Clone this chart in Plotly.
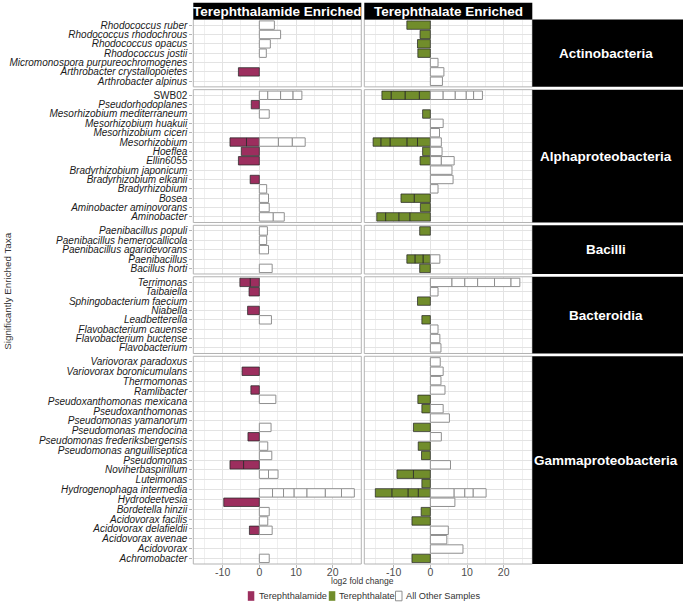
import plotly.graph_objects as go

FONT = "Liberation Sans, Arial, Helvetica, sans-serif"
W, H = 683, 605

MAROON = "#9c2e5e"
GREEN = "#718d2b"
WHITE = "#ffffff"

panel_titles = ["Terephthalamide Enriched", "Terephthalate Enriched"]
series_names = ["Terephthalamide", "Terephthalate", "All Other Samples"]
series_colors = [MAROON, GREEN, WHITE]
classes = ["Actinobacteria", "Alphaproteobacteria", "Bacilli", "Bacteroidia", "Gammaproteobacteria"]
x_ticks = [-10, 0, 10, 20]
x_minor = [-15, -5, 5, 15, 25]

# ---------------- Actinobacteria ----------------
actino_taxa = ["Rhodococcus ruber", "Rhodococcus rhodochrous", "Rhodococcus opacus",
               "Rhodococcus jostii", "Micromonospora purpureochromogenes",
               "Arthrobacter crystallopoietes", "Arthrobacter alpinus"]
actino_amide = [[], [], [], [], [], [-5.7], []]
actino_amide_other = [[4.1], [5.8], [3.0], [1.9], [], [], []]
actino_tpa = [[-6.4], [-2.8], [-3.5], [-3.4], [], [], []]
actino_tpa_other = [[], [], [], [], [2.1], [3.7], [3.3]]

# ---------------- Alphaproteobacteria ----------------
alpha_taxa = ["SWB02", "Pseudorhodoplanes", "Mesorhizobium mediterraneum", "Mesorhizobium huakuii",
              "Mesorhizobium ciceri", "Mesorhizobium", "Hoeflea", "Ellin6055",
              "Bradyrhizobium japonicum", "Bradyrhizobium elkanii", "Bradyrhizobium", "Bosea",
              "Aminobacter aminovorans", "Aminobacter"]
alpha_amide = [[], [-2.2], [], [], [], [-3.5, -4.5], [-4.9], [-5.7], [], [-2.5], [], [], [], []]
alpha_amide_other = [[2.3, 3.5, 3.4, 2.4], [], [2.7], [], [], [5.2, 3.8, 3.5], [], [], [], [],
                     [2.0], [2.5], [2.7], [3.8, 3.0]]
alpha_tpa = [[-3.0, -3.9, -3.8, -2.5], [], [-2.1], [], [], [-3.5, -2.9, -4.6, -2.5, -2.1],
             [-2.1], [-2.8], [], [], [], [-4.4, -3.6], [-2.7], [-5.6, -3.0, -3.6, -2.4]]
alpha_tpa_other = [[3.5, 3.3, 3.0, 2.0, 2.4], [], [], [3.5], [2.5], [3.0], [3.2], [3.0, 3.5],
                   [5.9], [6.2], [2.1], [], [], []]

# ---------------- Bacilli ----------------
bacilli_taxa = ["Paenibacillus populi", "Paenibacillus hemerocallicola",
                "Paenibacillus agaridevorans", "Paenibacillus", "Bacillus horti"]
bacilli_amide = [[], [], [], [], []]
bacilli_amide_other = [[2.2], [2.0], [2.5], [], [3.5]]
bacilli_tpa = [[-2.9], [], [], [-2.0, -2.2, -2.2], [-2.9]]
bacilli_tpa_other = [[], [], [], [2.6], []]

# ---------------- Bacteroidia ----------------
bacter_taxa = ["Terrimonas", "Taibaiella", "Sphingobacterium faecium", "Niabella",
               "Leadbetterella", "Flavobacterium cauense", "Flavobacterium buctense",
               "Flavobacterium"]
bacter_amide = [[-2.5, -2.8], [-2.8], [], [-3.2], [], [], [], []]
bacter_amide_other = [[], [], [], [], [3.3], [], [], []]
bacter_tpa = [[], [], [-3.5], [], [-2.3], [], [], []]
bacter_tpa_other = [[5.9, 3.5, 3.5, 4.6, 4.5, 2.4], [2.1], [], [], [], [2.1], [2.6], [2.9]]

# ---------------- Gammaproteobacteria ----------------
# the picture shows 21 axis labels spread over 22 bar rows
gamma_taxa = ["Variovorax paradoxus", "Variovorax boronicumulans", "Thermomonas", "Ramlibacter",
              "Pseudoxanthomonas mexicana", "Pseudoxanthomonas", "Pseudomonas yamanorum",
              "Pseudomonas mendocina", "Pseudomonas frederiksbergensis",
              "Pseudomonas anguilliseptica", "Pseudomonas", "Noviherbaspirillum", "Luteimonas",
              "Hydrogenophaga intermedia", "Hydrodeetvesia", "Bordetella hinzii",
              "Acidovorax facilis", "Acidovorax delafieldii", "Acidovorax avenae", "Acidovorax",
              "Achromobacter"]
gamma_bar_rows = 22
gamma_amide = [[], [-4.7], [], [-2.3], [], [], [], [], [-3.1], [], [], [-4.3, -3.7], [], [],
               [], [-9.7], [], [], [-2.7], [], [], []]
gamma_amide_other = [[], [], [], [], [4.5], [], [], [3.2], [], [2.3], [3.4], [], [2.5, 2.6], [],
                     [3.6, 3.0, 2.9, 3.5, 5.0, 4.4, 3.5], [], [2.7], [2.3], [3.5], [], [], [2.7]]
gamma_tpa = [[], [], [], [], [-3.4], [-2.3], [], [-4.6], [], [-3.3], [-2.4], [], [-4.6, -4.5],
             [-2.3], [-3.3, -2.8, -4.4, -4.5], [], [-2.5], [-5.0], [], [], [], [-5.0]]
gamma_tpa_other = [[2.7], [3.5], [2.9], [4.0], [], [3.5], [5.2], [], [3.0], [], [], [5.5], [], [],
                   [6.5, 2.9, 2.3, 3.5], [6.7], [], [], [4.9], [4.5], [8.9], []]

facets = [
    (actino_taxa, len(actino_taxa), actino_amide, actino_amide_other, actino_tpa, actino_tpa_other),
    (alpha_taxa, len(alpha_taxa), alpha_amide, alpha_amide_other, alpha_tpa, alpha_tpa_other),
    (bacilli_taxa, len(bacilli_taxa), bacilli_amide, bacilli_amide_other, bacilli_tpa, bacilli_tpa_other),
    (bacter_taxa, len(bacter_taxa), bacter_amide, bacter_amide_other, bacter_tpa, bacter_tpa_other),
    (gamma_taxa, gamma_bar_rows, gamma_amide, gamma_amide_other, gamma_tpa, gamma_tpa_other),
]

# ---------------- layout geometry (pixels) ----------------
col_px = [(193.3, 361.3), (364.3, 532.3)]
strip_right_px = (532.3, 683.0)
top_px, bottom_px, gap_px = 19.5, 564.0, 2.8
strip_top_px = 2.7
units = [f[1] + 0.2 for f in facets]
u = (bottom_px - top_px - gap_px * (len(facets) - 1)) / sum(units)
row_px = []
cur = top_px
for un in units:
    row_px.append((cur, cur + un * u))
    cur += un * u + gap_px


def px_x(p):
    return p / W


def px_y(p):
    return 1 - p / H


fig = go.Figure()
LINE_COL = "rgba(40,40,40,0.75)"
OTHER_LINE = "#8f8f8f"


def add_stack(rows, xa, ya, color, lcol, name):
    depth = max((len(s) for s in rows), default=0)
    for k in range(depth):
        ys = [i for i, s in enumerate(rows) if len(s) > k]
        xs = [rows[i][k] for i in ys]
        fig.add_trace(go.Bar(
            orientation="h", x=xs, y=ys, xaxis=xa, yaxis=ya, width=0.9,
            marker=dict(color=color, line=dict(color=lcol, width=1)),
            name=name, legendgroup=name, showlegend=False,
            hoverinfo="x+name"))


for r, (taxa, nrows, amide, amide_o, tpa, tpa_o) in enumerate(facets):
    ya = "y" if r == 0 else f"y{r + 1}"
    add_stack(amide, "x", ya, MAROON, LINE_COL, series_names[0])
    add_stack(amide_o, "x", ya, WHITE, OTHER_LINE, series_names[2])
    add_stack(tpa, "x2", ya, GREEN, LINE_COL, series_names[1])
    add_stack(tpa_o, "x2", ya, WHITE, OTHER_LINE, series_names[2])

GRID = "#e3e3e3"
MINOR = "#efefef"
layout = dict(
    width=W, height=H, margin=dict(l=0, r=0, t=0, b=0, pad=0),
    paper_bgcolor="white", plot_bgcolor="white",
    barmode="relative", bargap=0.1,
    font=dict(family=FONT, color="#333333"),
    showlegend=False,
)

for c, (x0, x1) in enumerate(col_px):
    key = "xaxis" if c == 0 else "xaxis2"
    layout[key] = dict(
        domain=[px_x(x0), px_x(x1)], anchor="y5", side="bottom", range=[-18, 27.8],
        tickmode="array", tickvals=x_ticks, ticktext=[str(v) for v in x_ticks],
        ticks="outside", ticklen=2.5, tickcolor="#b3b3b3", showticklabels=True,
        ticklabeloverflow="allow", ticklabelstandoff=-4,
        tickfont=dict(size=10.5, color="#4d4d4d", family=FONT),
        showgrid=True, gridcolor=GRID, gridwidth=0.8, zeroline=False,
        minor=dict(tickmode="array", tickvals=x_minor, showgrid=True, gridcolor=MINOR,
                   gridwidth=0.6, ticks=""),
        showline=False, automargin=False, fixedrange=True)

for r, (taxa, nrows, *_rest) in enumerate(facets):
    key = "yaxis" if r == 0 else f"yaxis{r + 1}"
    y0p, y1p = row_px[r]
    nlab = len(taxa)
    if nlab == nrows:
        tv = list(range(nlab))
    else:
        tv = [k * (nrows - 1) / (nlab - 1) for k in range(nlab)]
    tt = [t if t == "SWB02" else f"<i>{t}</i>" for t in taxa]
    layout[key] = dict(
        domain=[px_y(y1p), px_y(y0p)], anchor="x", range=[nrows - 0.4, -0.6],
        tickmode="array", tickvals=tv, ticktext=tt, ticks="outside", ticklen=3,
        tickcolor="#b3b3b3", ticklabeloverflow="allow",
        tickfont=dict(size=10, color="#1a1a1a", family=FONT),
        showgrid=True, gridcolor=GRID, gridwidth=0.8, zeroline=False,
        showline=False, automargin=False, fixedrange=True)

shapes = []
annotations = []
# panel borders
for (x0, x1) in col_px:
    for (y0p, y1p) in row_px:
        shapes.append(dict(type="rect", xref="paper", yref="paper",
                           x0=px_x(x0), x1=px_x(x1), y0=px_y(y1p), y1=px_y(y0p),
                           line=dict(color="#b3b3b3", width=1), layer="above"))
# top strips
for c, (x0, x1) in enumerate(col_px):
    shapes.append(dict(type="rect", xref="paper", yref="paper",
                       x0=px_x(x0), x1=px_x(x1), y0=px_y(top_px), y1=px_y(strip_top_px),
                       fillcolor="black", line=dict(width=0), layer="above"))
    annotations.append(dict(text=f"<b>{panel_titles[c]}</b>", xref="paper", yref="paper",
                            x=px_x((x0 + x1) / 2), y=px_y((top_px + strip_top_px) / 2),
                            xanchor="center", yanchor="middle", showarrow=False,
                            font=dict(size=13.5, color="white", family=FONT)))
# right strips
for r, (y0p, y1p) in enumerate(row_px):
    shapes.append(dict(type="rect", xref="paper", yref="paper",
                       x0=px_x(strip_right_px[0]), x1=px_x(strip_right_px[1]),
                       y0=px_y(y1p), y1=px_y(y0p),
                       fillcolor="black", line=dict(width=0), layer="above"))
    annotations.append(dict(text=f"<b>{classes[r]}</b>", xref="paper", yref="paper",
                            x=px_x(sum(strip_right_px) / 2 - 1.5), y=px_y((y0p + y1p) / 2),
                            xanchor="center", yanchor="middle", showarrow=False,
                            font=dict(size=13.5, color="white", family=FONT)))
# axis titles
annotations.append(dict(text="log2 fold change", xref="paper", yref="paper",
                        x=px_x((col_px[0][0] + col_px[1][1]) / 2), y=px_y(581.0),
                        xanchor="center", yanchor="middle", showarrow=False,
                        font=dict(size=8.5, color="#333333", family=FONT)))
annotations.append(dict(text="Significantly Enriched Taxa", xref="paper", yref="paper",
                        x=px_x(8), y=px_y((top_px + bottom_px) / 2), textangle=-90,
                        xanchor="center", yanchor="middle", showarrow=False,
                        font=dict(size=9.8, color="#333333", family=FONT)))

# legend (key boxes + labels) below the panels
legend_box_px = [(247.8, 254.3), (328.8, 335.3), (395.5, 402.0)]
legend_text_px = [256.7, 337.0, 404.0]
legend_y_px = 596.0
for i, name in enumerate(series_names):
    bx0, bx1 = legend_box_px[i]
    shapes.append(dict(type="rect", xref="paper", yref="paper",
                       x0=px_x(bx0), x1=px_x(bx1),
                       y0=px_y(legend_y_px + 4.8), y1=px_y(legend_y_px - 4.8),
                       fillcolor=series_colors[i],
                       line=dict(color=OTHER_LINE if series_colors[i] == WHITE else "rgba(0,0,0,0)",
                                 width=1)))
    annotations.append(dict(text=name, xref="paper", yref="paper",
                            x=px_x(legend_text_px[i]), y=px_y(legend_y_px),
                            xanchor="left", yanchor="middle", showarrow=False,
                            font=dict(size=9.2, color="#333333", family=FONT)))

layout["shapes"] = shapes
layout["annotations"] = annotations
fig.update_layout(**layout)
fig.write_html("out.html", config={"displayModeBar": False},
               post_script="document.body.style.margin='0px';")
